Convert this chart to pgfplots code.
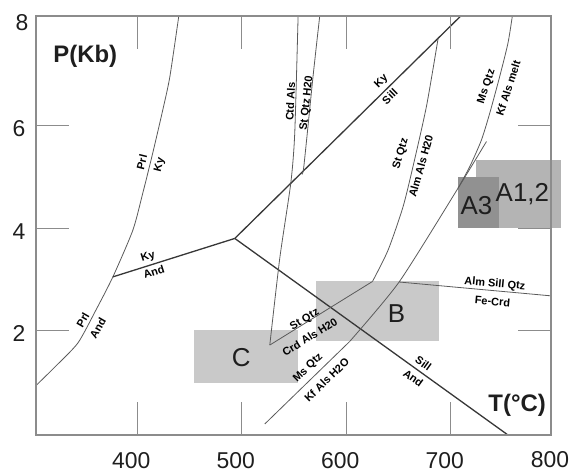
\documentclass[border=0pt]{standalone}
\usepackage{pgfplots}
\pgfplotsset{compat=1.18}
\usepackage{fontspec}
\setmainfont{Liberation Sans}
\definecolor{axgray}{RGB}{140,140,140}
\definecolor{lndark}{RGB}{55,55,55}
\definecolor{lnthin}{RGB}{90,90,90}
\definecolor{boxlight}{RGB}{201,201,201}
\definecolor{boxmid}{RGB}{180,180,180}
\definecolor{boxdark}{RGB}{145,145,145}
\definecolor{txtdark}{RGB}{30,30,30}
\newcommand{\lbl}{\fontsize{11}{13}\selectfont\bfseries}
\newcommand{\bigfont}{\fontsize{26}{30}\selectfont}
\newcommand{\tickfont}{\fontsize{23}{26}\selectfont}
\begin{document}
\begin{tikzpicture}[x=1bp,y=1bp]
\begin{axis}[
  at={(36bp,37bp)}, anchor=south west,
  scale only axis, width=515bp, height=419bp,
  xmin=303, xmax=796, ymin=-0.035, ymax=8.14,
  xtick={400,500,600,700}, ytick={2,4,6},
  tick align=inside, major tick length=33bp,
  axis line style={axgray, line width=1.3bp},
  tick style={axgray, line width=1bp},
  ticklabel style={font=\tickfont, text=txtdark},
  /pgf/number format/assume math mode=true,
  xticklabel style={xshift=-6bp, yshift=-16bp, text depth=0pt, inner sep=1bp},
  yticklabel style={xshift=-7bp, yshift=-3bp},
  axis on top, clip=false,
]
% shaded boxes
\addplot[draw=none, fill=boxlight] coordinates {(454.4,0.97) (553.6,0.97) (553.6,2.01) (454.4,2.01)} -- cycle;
\addplot[draw=none, fill=boxlight] coordinates {(571.5,1.79) (689.2,1.79) (689.2,2.96) (571.5,2.96)} -- cycle;
\addplot[draw=none, fill=boxmid] coordinates {(724.6,4.00) (805.9,4.00) (805.9,5.33) (724.6,5.33)} -- cycle;
\addplot[draw=none, fill=boxdark] coordinates {(707.0,4.00) (745.9,4.00) (745.9,4.99) (707.0,4.99)} -- cycle;

% Prl = Ky / Prl = And
\addplot[lnthin, line width=0.8bp, smooth, tension=0.4] coordinates {(303.5,0.94) (321,1.29) (343.1,1.76) (360.3,2.40) (376.6,3.05) (395.7,3.96) (405.3,4.69) (414.8,5.47) (424.4,6.31) (431.1,6.95) (439.7,8.14)};
% aluminosilicate triple point
\addplot[lndark, line width=1.3bp] coordinates {(376.6,3.05) (493.3,3.80)};
\addplot[lndark, line width=1.3bp] coordinates {(493.3,3.80) (709.6,8.14)};
\addplot[lndark, line width=1.3bp] coordinates {(493.3,3.80) (754.8,-0.035)};
% Ctd Als = St Qtz H2O
\addplot[lnthin, line width=0.8bp, smooth, tension=0.4] coordinates {(553.9,8.14) (550.7,5.86) (546.9,4.88) (536.4,3.42) (526.8,1.72)};
\addplot[lnthin, line width=0.8bp, smooth, tension=0.4] coordinates {(574.6,8.14) (568.2,6.96) (559.3,5.19) (557.1,5.08)};
% St Qtz = Crd Als H2O
\addplot[lnthin, line width=0.8bp] coordinates {(526.8,1.72) (625.1,2.96)};
% St Qtz = Alm Als H2O
\addplot[lnthin, line width=0.8bp, smooth, tension=0.4] coordinates {(625.1,2.96) (640,3.57) (654.4,4.42) (665,5.3) (677,6.4) (688,7.71)};
% Ms Qtz = Kf Als H2O
\addplot[lnthin, line width=0.8bp] coordinates {(522.0,0.18) (603.3,1.79)};
\addplot[lnthin, line width=0.8bp, smooth, tension=0.4] coordinates {(603.3,1.79) (650.6,2.95) (707.0,4.78) (734.2,5.69)};
% Ms Qtz = Kf Als melt
\addplot[lnthin, line width=0.8bp, smooth, tension=0.4] coordinates {(707.0,4.78) (718.2,5.20) (729.4,5.72) (737.3,6.24) (746.9,6.96) (754.8,7.61) (759.0,8.14)};
% Alm Sill Qtz = Fe-Crd
\addplot[lnthin, line width=0.8bp] coordinates {(650.6,2.95) (795.9,2.68)};

% reaction labels
\node[font=\lbl, rotate=60] at (axis cs:347.8,2.21) {Prl};
\node[font=\lbl, rotate=60] at (axis cs:362.2,2.05) {And};
\node[font=\lbl, rotate=76] at (axis cs:404.3,5.29) {Prl};
\node[font=\lbl, rotate=76] at (axis cs:421.5,5.24) {Ky};
\node[font=\lbl, rotate=17.7] at (axis cs:410.3,3.44) {Ky};
\node[font=\lbl, rotate=17.7] at (axis cs:415.8,3.15) {And};
\node[font=\lbl, rotate=44.5] at (axis cs:633.7,6.86) {Ky};
\node[font=\lbl, rotate=44.5] at (axis cs:641.7,6.57) {Sill};
\node[font=\lbl, rotate=-35.8] at (axis cs:673.8,1.36) {Sill};
\node[font=\lbl, rotate=-35.8] at (axis cs:664.2,1.07) {And};
\node[font=\lbl, rotate=87] at (axis cs:546.5,6.47) {Ctd Als};
\node[font=\lbl, rotate=84] at (axis cs:562.3,6.44) {St Qtz H20};
\node[font=\lbl, rotate=31.6] at (axis cs:560.3,2.21) {St Qtz};
\node[font=\lbl, rotate=31.6] at (axis cs:565.1,1.88) {Crd Als H20};
\node[font=\lbl, rotate=74] at (axis cs:652.3,5.45) {St Qtz};
\node[font=\lbl, rotate=74] at (axis cs:671.4,5.21) {Alm Als H20};
\node[font=\lbl, rotate=72] at (axis cs:734.3,6.76) {Ms Qtz};
\node[font=\lbl, rotate=72] at (axis cs:755.0,6.73) {Kf Als melt};
\node[font=\lbl, rotate=44] at (axis cs:563.5,1.27) {Ms Qtz};
\node[font=\lbl, rotate=44] at (axis cs:581.2,1.04) {Kf Als H2O};
\node[font=\lbl, rotate=-5.2] at (axis cs:742.2,2.91) {Alm Sill Qtz};
\node[font=\lbl, rotate=-5.2] at (axis cs:740.0,2.57) {Fe-Crd};

% box labels
\node[font=\bigfont, text=txtdark] at (axis cs:499.5,1.48) {C};
\node[font=\bigfont, text=txtdark] at (axis cs:648.2,2.33) {B};
\node[font=\bigfont, text=txtdark] at (axis cs:724.6,4.45) {A3};
\node[font=\bigfont, text=txtdark] at (axis cs:768.6,4.66) {A1,2};

% end-of-axis tick labels
\node[font=\tickfont, text=txtdark] at (axis cs:289.6,8.02) {8};
\node[font=\tickfont, text=txtdark, text depth=0pt, inner sep=1bp] at (axis cs:795.0,-0.51) {800};

% axis titles
\node[font=\fontsize{24}{28}\selectfont\bfseries, text=txtdark] at (axis cs:350.2,7.36) {P(Kb)};
\node[font=\fontsize{24}{28}\selectfont\bfseries, text=txtdark] at (axis cs:763.6,0.55) {T(°C)};
\end{axis}
\pgfresetboundingbox
\path (0,0) rectangle (570bp,472bp);
\end{tikzpicture}
\end{document}
